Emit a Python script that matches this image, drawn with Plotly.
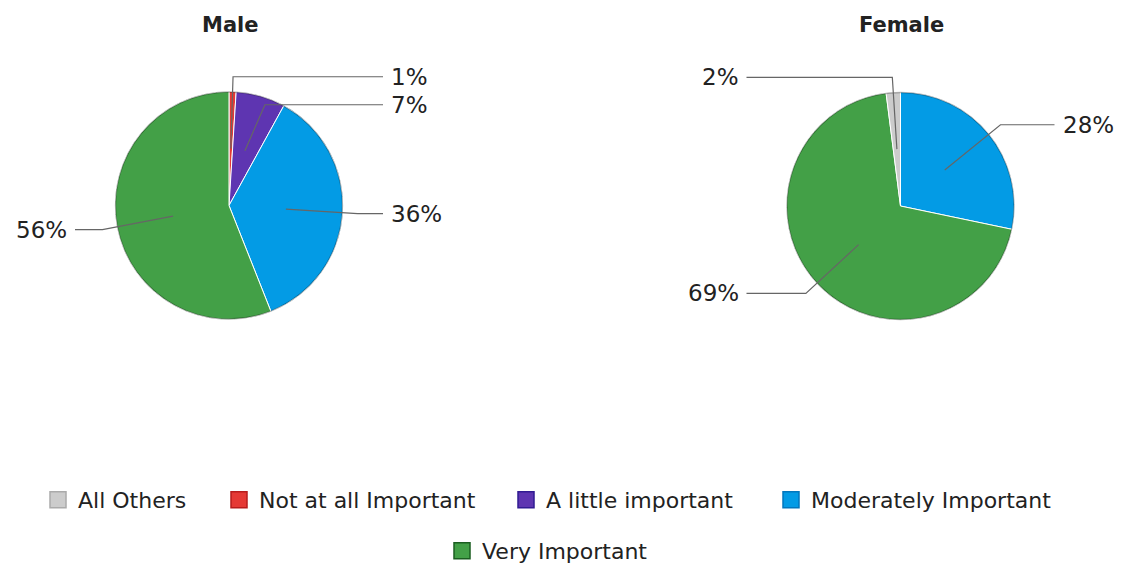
import math
import plotly.graph_objects as go

# ---------------- data ----------------
categories = ["All Others", "Not at all Important", "A little important",
              "Moderately Important", "Very Important"]
titles = ["Male", "Female"]

male_labels = ["Not at all Important", "A little important",
               "Moderately Important", "Very Important"]
male_values = [1, 7, 36, 56]

female_labels = ["Moderately Important", "Very Important", "All Others"]
female_values = [28, 69, 2]

# ---------------- styles ----------------
fill = {
    "All Others": "#cccccc",
    "Not at all Important": "#e53935",
    "A little important": "#5e35b1",
    "Moderately Important": "#039be5",
    "Very Important": "#43a047",
}
edge = {
    "All Others": "#aaaaaa",
    "Not at all Important": "#b71c1c",
    "A little important": "#311b92",
    "Moderately Important": "#0277bd",
    "Very Important": "#1b5e20",
}
# legend text start (px) and row centre (px from top) for each legend entry
legend_pos = [(78, 500), (259, 500), (546, 500), (811, 500), (482, 551)]

W, H = 1121, 568
FONT = "DejaVu Sans"
pies = [
    dict(title=titles[0], labels=male_labels, values=male_values, cx=229.0, cy=205.5, r=114.0),
    dict(title=titles[1], labels=female_labels, values=female_values, cx=900.5, cy=206.0, r=114.0),
]


def px(x):
    return x / W


def py(y):
    return 1 - y / H


fig = go.Figure()
shapes = []
annotations = []

for p in pies:
    cx, cy, r = p["cx"], p["cy"], p["r"]
    fig.add_trace(go.Pie(
        labels=p["labels"], values=p["values"], sort=False,
        direction="clockwise", rotation=0,
        marker=dict(colors=[fill[l] for l in p["labels"]],
                    line=dict(color="white", width=1)),
        textinfo="none", showlegend=False, hoverinfo="label+percent",
        domain=dict(x=[px(cx - r), px(cx + r)], y=[py(cy + r), py(cy - r)]),
    ))
    # subtle darker rim around the pie
    shapes.append(dict(type="circle", xref="paper", yref="paper",
                       x0=px(cx - r + 0.5), x1=px(cx + r - 0.5),
                       y0=py(cy + r - 0.5), y1=py(cy - r + 0.5),
                       line=dict(color="rgba(0,0,0,0.28)", width=1.3),
                       fillcolor="rgba(0,0,0,0)", layer="above"))
    annotations.append(dict(
        text=p["title"], x=px(cx + 1), y=py(25), xref="paper", yref="paper",
        showarrow=False, xanchor="center", yanchor="middle",
        font=dict(family=FONT, size=21, color="#222222", weight="bold"),
    ))
    # label / leader line geometry derived from the values
    total = float(sum(p["values"]))
    cum = 0.0
    items = []
    for lab, v in zip(p["labels"], p["values"]):
        mid = (cum + v / 2.0) / total
        cum += v
        th = 2 * math.pi * mid
        s, c = math.sin(th), math.cos(th)
        inner = (cx + 0.5 * r * s, cy - 0.5 * r * c)
        elbow = [cx + 1.13 * r * s, cy - 1.13 * r * c]
        side = 1 if s >= 0 else -1
        items.append(dict(v=v, inner=inner, elbow=elbow, side=side))
    for side in (1, -1):
        group = sorted([it for it in items if it["side"] == side], key=lambda it: it["elbow"][1])
        prev = None
        for it in group:
            if prev is not None and it["elbow"][1] < prev + 28:
                it["elbow"][1] = prev + 28
            prev = it["elbow"][1]
    for it in items:
        side = it["side"]
        ex, ey = it["elbow"]
        endx = cx + side * (r + 40)
        tx = cx + side * (r + 46)
        path = "M {:.5f},{:.5f} L {:.5f},{:.5f} L {:.5f},{:.5f}".format(
            px(it["inner"][0]), py(it["inner"][1]), px(ex), py(ey), px(endx), py(ey))
        shapes.append(dict(type="path", path=path, xref="paper", yref="paper",
                           line=dict(color="#666666", width=1.2)))
        annotations.append(dict(
            text=f"{it['v']}%", x=px(tx), y=py(ey), xref="paper", yref="paper",
            showarrow=False, xanchor="left" if side > 0 else "right", yanchor="middle",
            font=dict(family=FONT, size=23, color="#222222"),
        ))

# legend entries: one small legend per entry so spacing follows the reference
legends = {}
for i, cat in enumerate(categories):
    lid = "legend" if i == 0 else f"legend{i + 1}"
    fig.add_trace(go.Scatter(
        x=[None], y=[None], mode="markers", name=cat,
        marker=dict(symbol="square", size=24, color=fill[cat],
                    line=dict(color=edge[cat], width=1.5)),
        legend=lid, hoverinfo="skip",
    ))
    tx, ty = legend_pos[i]
    legends[lid] = dict(
        orientation="h", xanchor="left", x=px(tx - 40), yanchor="middle", y=py(ty),
        font=dict(family=FONT, size=22, color="#222222"),
        bgcolor="rgba(0,0,0,0)", itemclick=False, itemdoubleclick=False,
    )

fig.update_layout(
    width=W, height=H,
    margin=dict(l=0, r=0, t=0, b=0, autoexpand=False),
    paper_bgcolor="white", plot_bgcolor="white",
    xaxis=dict(visible=False), yaxis=dict(visible=False),
    shapes=shapes, annotations=annotations,
    **legends,
)

fig.write_html("out.html")
